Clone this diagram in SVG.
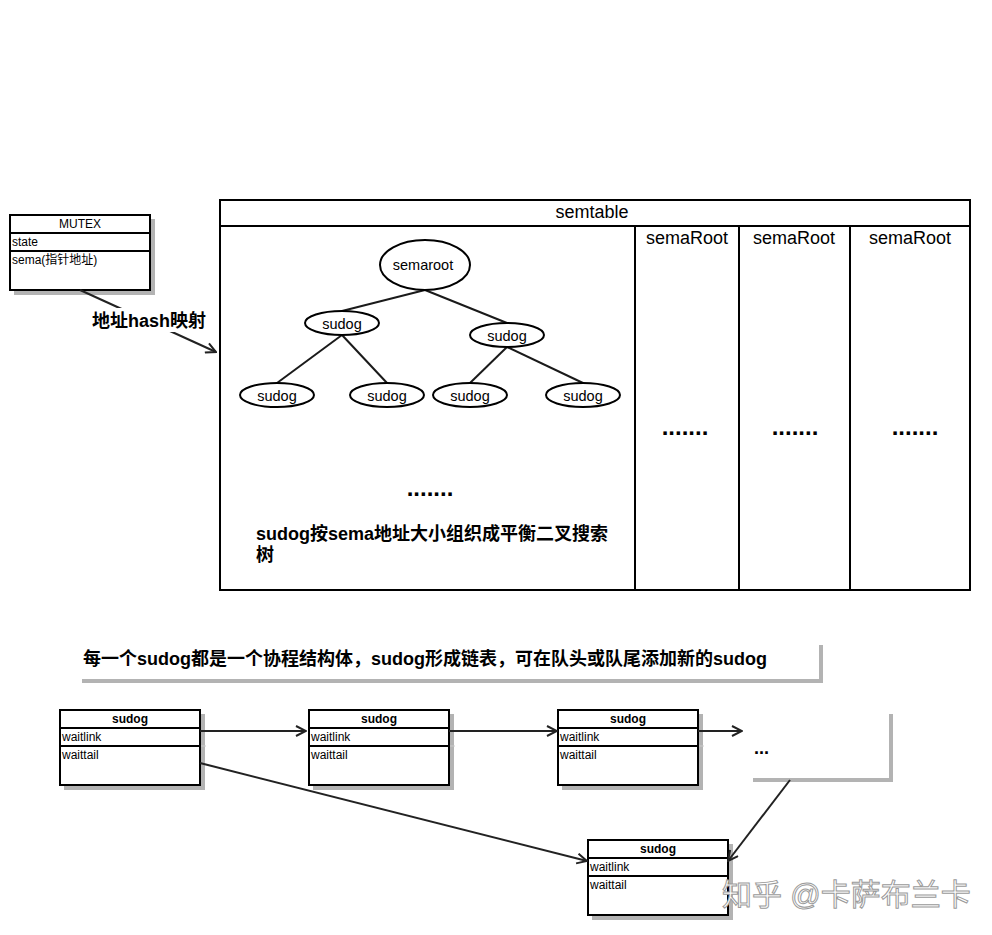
<svg xmlns="http://www.w3.org/2000/svg" width="992" height="935" viewBox="0 0 992 935">
<defs>
<style>
text{font-family:"Liberation Sans","Noto Sans CJK SC",sans-serif;fill:#000}
.box{fill:#fff;stroke:#000;stroke-width:2}
.sh{fill:#b3b3b3;stroke:none}
.ln{stroke:#000;stroke-width:2;fill:none}
.tl{stroke:#1a1a1a;stroke-width:2;fill:none}
.el{fill:#fff;stroke:#000;stroke-width:2}
.f12{font-size:12px}
.b12{font-size:12px;font-weight:bold}
.b18{font-size:18px;font-weight:bold}
.n14{font-size:14.5px}
.n17{font-size:18px}
.dots{font-size:24px;font-weight:bold}
.conn{stroke:#222;stroke-width:2;fill:none}
</style>
<marker id="ar" viewBox="0 0 12 12" refX="11" refY="6" markerWidth="12" markerHeight="12" markerUnits="userSpaceOnUse" orient="auto">
<path d="M1,1 L11,6 L1,11" fill="none" stroke="#222" stroke-width="2"/>
</marker>
</defs>
<rect width="992" height="935" fill="#fff"/>

<g id="mutex">
<rect class="sh" x="14" y="219" width="141" height="76"/>
<rect class="box" x="10" y="215" width="140" height="75"/>
<line class="ln" x1="10" y1="233" x2="150" y2="233"/>
<line class="ln" x1="10" y1="251" x2="150" y2="251"/>
<text class="f12" x="80" y="228" text-anchor="middle">MUTEX</text>
<text class="f12" x="12" y="246">state</text>
<text class="f12" x="12" y="264">sema(指针地址)</text>
</g>

<g id="semtable">
<rect class="box" x="220" y="200" width="750" height="390"/>
<line class="ln" x1="220" y1="226" x2="970" y2="226"/>
<line class="ln" x1="635" y1="226" x2="635" y2="590"/>
<line class="ln" x1="739" y1="226" x2="739" y2="590"/>
<line class="ln" x1="850" y1="226" x2="850" y2="590"/>
<text class="n17" x="592" y="218" text-anchor="middle">semtable</text>
<text class="n17" x="687" y="244" text-anchor="middle">semaRoot</text>
<text class="n17" x="794" y="244" text-anchor="middle">semaRoot</text>
<text class="n17" x="910" y="244" text-anchor="middle">semaRoot</text>
<text class="dots" x="685" y="435" text-anchor="middle">.......</text>
<text class="dots" x="795" y="435" text-anchor="middle">.......</text>
<text class="dots" x="915" y="435" text-anchor="middle">.......</text>
<text class="dots" x="430" y="496" text-anchor="middle">.......</text>
<text class="b18" x="256" y="540">sudog按sema地址大小组织成平衡二叉搜索</text>
<text class="b18" x="256" y="561">树</text>
</g>

<g id="tree-edges">
<line class="tl" x1="425" y1="290" x2="342" y2="311"/>
<line class="tl" x1="425" y1="290" x2="507" y2="323"/>
<line class="tl" x1="342" y1="335" x2="277" y2="383"/>
<line class="tl" x1="342" y1="335" x2="387" y2="383"/>
<line class="tl" x1="507" y1="347" x2="470" y2="383"/>
<line class="tl" x1="507" y1="347" x2="583" y2="383"/>
</g>

<g id="semaroot">
<ellipse class="el" cx="425" cy="265" rx="45" ry="25"/>
<text class="n14" x="423" y="270" text-anchor="middle">semaroot</text>
</g>
<g id="sudog-l1"><ellipse class="el" cx="342" cy="323" rx="37" ry="12"/><text class="n14" x="342" y="329" text-anchor="middle">sudog</text></g>
<g id="sudog-r1"><ellipse class="el" cx="507" cy="335" rx="37" ry="12"/><text class="n14" x="507" y="341" text-anchor="middle">sudog</text></g>
<g id="sudog-ll"><ellipse class="el" cx="277" cy="395" rx="37" ry="12"/><text class="n14" x="277" y="401" text-anchor="middle">sudog</text></g>
<g id="sudog-lr"><ellipse class="el" cx="387" cy="395" rx="37" ry="12"/><text class="n14" x="387" y="401" text-anchor="middle">sudog</text></g>
<g id="sudog-rl"><ellipse class="el" cx="470" cy="395" rx="37" ry="12"/><text class="n14" x="470" y="401" text-anchor="middle">sudog</text></g>
<g id="sudog-rr"><ellipse class="el" cx="583" cy="395" rx="37" ry="12"/><text class="n14" x="583" y="401" text-anchor="middle">sudog</text></g>

<g id="note">
<rect class="sh" x="82" y="645" width="741" height="38"/>
<rect x="78" y="641" width="741" height="38" fill="#fff"/>
<text class="b18" x="83" y="665">每一个sudog都是一个协程结构体，sudog形成链表，可在队头或队尾添加新的sudog</text>
</g>

<g id="sudog1">
<rect class="sh" x="64" y="714" width="141" height="76"/>
<rect class="box" x="60" y="710" width="140" height="75"/>
<line class="ln" x1="60" y1="728" x2="200" y2="728"/>
<line class="ln" x1="60" y1="746" x2="200" y2="746"/>
<line x1="201" y1="746" x2="206" y2="746" stroke="#ccc" stroke-width="1"/>
<text class="b12" x="130" y="723" text-anchor="middle">sudog</text>
<text class="f12" x="62" y="741">waitlink</text>
<text class="f12" x="62" y="759">waittail</text>
</g>
<g id="sudog2">
<rect class="sh" x="313" y="714" width="141" height="76"/>
<rect class="box" x="309" y="710" width="140" height="75"/>
<line class="ln" x1="309" y1="728" x2="449" y2="728"/>
<line class="ln" x1="309" y1="746" x2="449" y2="746"/>
<line x1="450" y1="746" x2="455" y2="746" stroke="#ccc" stroke-width="1"/>
<text class="b12" x="379" y="723" text-anchor="middle">sudog</text>
<text class="f12" x="311" y="741">waitlink</text>
<text class="f12" x="311" y="759">waittail</text>
</g>
<g id="sudog3">
<rect class="sh" x="562" y="714" width="141" height="76"/>
<rect class="box" x="558" y="710" width="140" height="75"/>
<line class="ln" x1="558" y1="728" x2="698" y2="728"/>
<line class="ln" x1="558" y1="746" x2="698" y2="746"/>
<line x1="699" y1="746" x2="704" y2="746" stroke="#ccc" stroke-width="1"/>
<text class="b12" x="628" y="723" text-anchor="middle">sudog</text>
<text class="f12" x="560" y="741">waitlink</text>
<text class="f12" x="560" y="759">waittail</text>
</g>
<g id="more">
<rect class="sh" x="753" y="714" width="140" height="68"/>
<rect x="749" y="710" width="140" height="68" fill="#fff"/>
<text class="b18" x="754" y="754">...</text>
</g>
<g id="sudog4">
<rect class="sh" x="592" y="844" width="141" height="76"/>
<rect class="box" x="588" y="840" width="140" height="75"/>
<line class="ln" x1="588" y1="858" x2="728" y2="858"/>
<line class="ln" x1="588" y1="876" x2="728" y2="876"/>
<text class="b12" x="658" y="853" text-anchor="middle">sudog</text>
<text class="f12" x="590" y="871">waitlink</text>
<text class="f12" x="590" y="889">waittail</text>
</g>

<g id="connectors">
<line class="conn" x1="80" y1="290" x2="216" y2="352" marker-end="url(#ar)"/>
<rect x="90" y="308" width="118" height="24" fill="#fff"/>
<text class="b18" x="92" y="327">地址hash映射</text>
<line class="conn" x1="200" y1="731" x2="306" y2="731" marker-end="url(#ar)"/>
<line class="conn" x1="449" y1="731" x2="557" y2="731" marker-end="url(#ar)"/>
<line class="conn" x1="698" y1="731" x2="742" y2="731" marker-end="url(#ar)"/>
<line class="conn" x1="200" y1="763" x2="587" y2="861" marker-end="url(#ar)"/>
<line class="conn" x1="790" y1="780" x2="728" y2="861" marker-end="url(#ar)"/>
</g>

<text x="722" y="905" font-size="30" stroke="#9a9a9a" stroke-width="1" style="fill:#fff">知乎 @卡萨布兰卡</text>
</svg>
